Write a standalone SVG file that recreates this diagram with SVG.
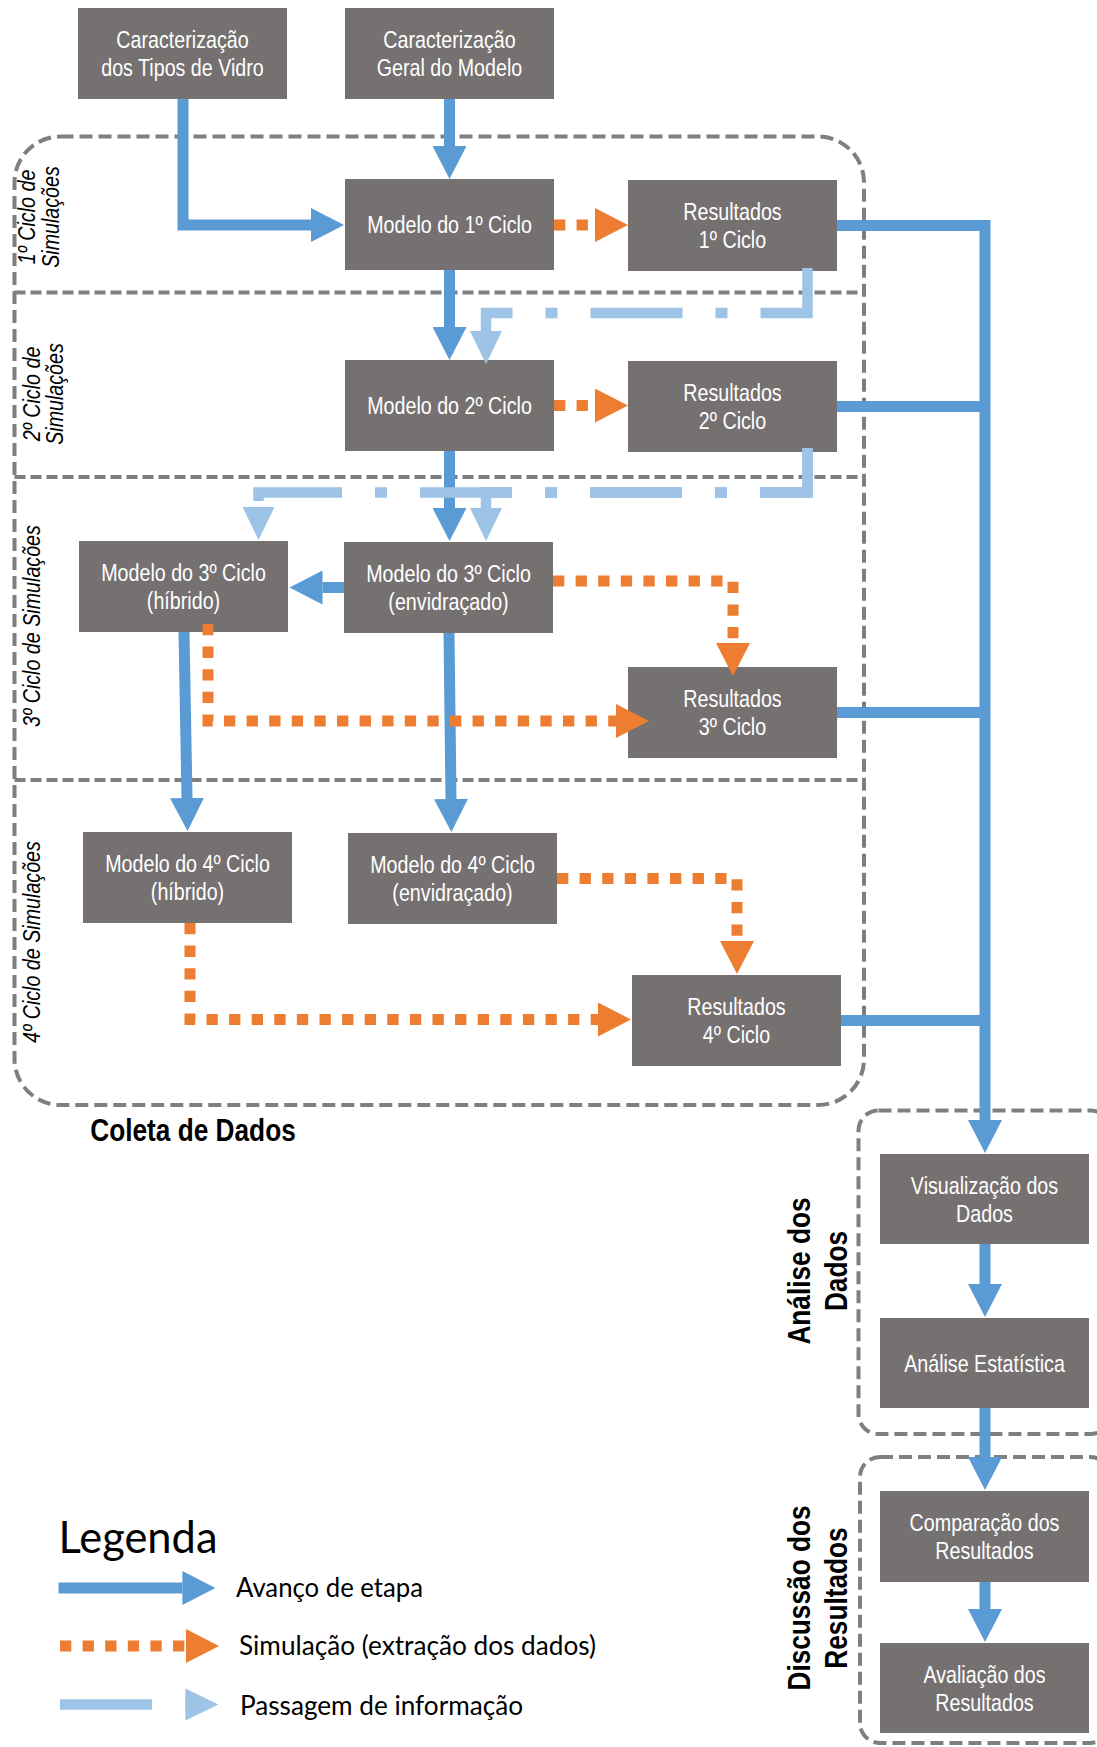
<svg xmlns="http://www.w3.org/2000/svg" width="1097" height="1747" viewBox="0 0 1097 1747">
<defs>
<style>
.box{fill:#767171}
.bt{font-family:"Liberation Sans",Arial,sans-serif;font-size:24px;fill:#ffffff;text-anchor:middle}
.cyc{font-family:"Liberation Sans",Arial,sans-serif;font-size:24px;font-style:italic;fill:#000;text-anchor:middle}
.hd{font-family:"Liberation Sans",Arial,sans-serif;font-size:32px;font-weight:bold;fill:#000;text-anchor:middle}
.lg{font-family:Lato,"Liberation Sans",sans-serif;fill:#000}
.cont{fill:none;stroke:#7f7f7f;stroke-width:4;stroke-dasharray:13 6}
.sep{fill:none;stroke:#7f7f7f;stroke-width:3.8;stroke-dasharray:11 5}
.blue{fill:none;stroke:#5b9bd5;stroke-width:11;stroke-linejoin:miter}
.orange{fill:none;stroke:#ed7d31;stroke-width:11;stroke-dasharray:11.3 11.3;stroke-linejoin:miter}
.light{fill:none;stroke:#9dc3e6;stroke-width:10.5;stroke-dasharray:92 33 12 33;stroke-linejoin:miter}
</style>
<marker id="hb" markerUnits="userSpaceOnUse" markerWidth="34" markerHeight="34" refX="0" refY="17" orient="auto"><path d="M0,0 L33,17 L0,34 z" fill="#5b9bd5"/></marker>
<marker id="ho" markerUnits="userSpaceOnUse" markerWidth="34" markerHeight="34" refX="0" refY="17" orient="auto"><path d="M0,0 L33,17 L0,34 z" fill="#ed7d31"/></marker>
<marker id="hl" markerUnits="userSpaceOnUse" markerWidth="34" markerHeight="34" refX="0" refY="17" orient="auto"><path d="M0,1 L33,17 L0,33 z" fill="#9dc3e6"/></marker>
</defs>
<rect width="1097" height="1747" fill="#ffffff"/>

<g id="containers">
<rect class="cont" x="14.5" y="136.5" width="849.5" height="968.5" rx="46" ry="46"/>
<line class="sep" x1="14.5" y1="292.5" x2="864" y2="292.5"/>
<line class="sep" x1="14.5" y1="477" x2="864" y2="477"/>
<line class="sep" x1="14.5" y1="780" x2="864" y2="780"/>
<rect class="cont" x="858.5" y="1110.5" width="252" height="323.5" rx="20" ry="20"/>
<rect class="cont" x="860" y="1457" width="250" height="286" rx="20" ry="20"/>
</g>

<g id="labels">
<text class="cyc" transform="translate(35,217) rotate(-90) scale(0.82,1)">1º Ciclo de</text>
<text class="cyc" transform="translate(59,217) rotate(-90) scale(0.82,1)">Simulações</text>
<text class="cyc" transform="translate(40,394) rotate(-90) scale(0.82,1)">2º Ciclo de</text>
<text class="cyc" transform="translate(63,394) rotate(-90) scale(0.82,1)">Simulações</text>
<text class="cyc" transform="translate(40,626) rotate(-90) scale(0.82,1)">3º Ciclo de Simulações</text>
<text class="cyc" transform="translate(40,942) rotate(-90) scale(0.82,1)">4º Ciclo de Simulações</text>
<text class="hd" transform="translate(193,1141) scale(0.82,1)">Coleta de Dados</text>
<text class="hd" transform="translate(810,1271) rotate(-90) scale(0.82,1)">Análise dos</text>
<text class="hd" transform="translate(847,1271) rotate(-90) scale(0.82,1)">Dados</text>
<text class="hd" transform="translate(810,1598) rotate(-90) scale(0.82,1)">Discussão dos</text>
<text class="hd" transform="translate(847,1598) rotate(-90) scale(0.82,1)">Resultados</text>
</g>

<g id="n-vidro"><rect class="box" x="78" y="8" width="209" height="91"/>
<text class="bt" transform="translate(182.5,48) scale(0.82,1)">Caracterização</text>
<text class="bt" transform="translate(182.5,76) scale(0.82,1)">dos Tipos de Vidro</text></g>
<g id="n-geral"><rect class="box" x="345" y="8" width="209" height="91"/>
<text class="bt" transform="translate(449.5,48) scale(0.82,1)">Caracterização</text>
<text class="bt" transform="translate(449.5,76) scale(0.82,1)">Geral do Modelo</text></g>
<g id="n-mod1"><rect class="box" x="345" y="179" width="209" height="91"/>
<text class="bt" transform="translate(449.5,233) scale(0.82,1)">Modelo do 1º Ciclo</text></g>
<g id="n-res1"><rect class="box" x="628" y="180" width="209" height="91"/>
<text class="bt" transform="translate(732.5,220) scale(0.82,1)">Resultados</text>
<text class="bt" transform="translate(732.5,248) scale(0.82,1)">1º Ciclo</text></g>
<g id="n-mod2"><rect class="box" x="345" y="360" width="209" height="91"/>
<text class="bt" transform="translate(449.5,414) scale(0.82,1)">Modelo do 2º Ciclo</text></g>
<g id="n-res2"><rect class="box" x="628" y="361" width="209" height="91"/>
<text class="bt" transform="translate(732.5,401) scale(0.82,1)">Resultados</text>
<text class="bt" transform="translate(732.5,429) scale(0.82,1)">2º Ciclo</text></g>
<g id="n-mod3h"><rect class="box" x="79" y="541" width="209" height="91"/>
<text class="bt" transform="translate(183.5,581) scale(0.82,1)">Modelo do 3º Ciclo</text>
<text class="bt" transform="translate(183.5,609) scale(0.82,1)">(híbrido)</text></g>
<g id="n-mod3e"><rect class="box" x="344" y="542" width="209" height="91"/>
<text class="bt" transform="translate(448.5,582) scale(0.82,1)">Modelo do 3º Ciclo</text>
<text class="bt" transform="translate(448.5,610) scale(0.82,1)">(envidraçado)</text></g>
<g id="n-res3"><rect class="box" x="628" y="667" width="209" height="91"/>
<text class="bt" transform="translate(732.5,707) scale(0.82,1)">Resultados</text>
<text class="bt" transform="translate(732.5,735) scale(0.82,1)">3º Ciclo</text></g>
<g id="n-mod4h"><rect class="box" x="83" y="832" width="209" height="91"/>
<text class="bt" transform="translate(187.5,872) scale(0.82,1)">Modelo do 4º Ciclo</text>
<text class="bt" transform="translate(187.5,900) scale(0.82,1)">(híbrido)</text></g>
<g id="n-mod4e"><rect class="box" x="348" y="833" width="209" height="91"/>
<text class="bt" transform="translate(452.5,873) scale(0.82,1)">Modelo do 4º Ciclo</text>
<text class="bt" transform="translate(452.5,901) scale(0.82,1)">(envidraçado)</text></g>
<g id="n-res4"><rect class="box" x="632" y="975" width="209" height="91"/>
<text class="bt" transform="translate(736.5,1015) scale(0.82,1)">Resultados</text>
<text class="bt" transform="translate(736.5,1043) scale(0.82,1)">4º Ciclo</text></g>
<g id="n-visual"><rect class="box" x="880" y="1154" width="209" height="90"/>
<text class="bt" transform="translate(984.5,1193.5) scale(0.82,1)">Visualização dos</text>
<text class="bt" transform="translate(984.5,1221.5) scale(0.82,1)">Dados</text></g>
<g id="n-estat"><rect class="box" x="880" y="1318" width="209" height="90"/>
<text class="bt" transform="translate(984.5,1371.5) scale(0.82,1)">Análise Estatística</text></g>
<g id="n-compar"><rect class="box" x="880" y="1491" width="209" height="91"/>
<text class="bt" transform="translate(984.5,1531) scale(0.82,1)">Comparação dos</text>
<text class="bt" transform="translate(984.5,1559) scale(0.82,1)">Resultados</text></g>
<g id="n-aval"><rect class="box" x="880" y="1643" width="209" height="90"/>
<text class="bt" transform="translate(984.5,1682.5) scale(0.82,1)">Avaliação dos</text>
<text class="bt" transform="translate(984.5,1710.5) scale(0.82,1)">Resultados</text></g>

<g id="connectors">
<path class="blue" d="M183,99 V225 H311" marker-end="url(#hb)"/>
<path class="blue" d="M449.5,99 V146" marker-end="url(#hb)"/>
<path class="blue" d="M449.5,270 V327" marker-end="url(#hb)"/>
<path class="blue" d="M449.5,451 V508" marker-end="url(#hb)"/>
<path class="blue" d="M344,587.5 H322.5" marker-end="url(#hb)"/>
<path class="blue" d="M184,632 L187,798" marker-end="url(#hb)"/>
<path class="blue" d="M449,633 L451,799" marker-end="url(#hb)"/>
<path class="blue" d="M837,225.5 H985 V1120" marker-end="url(#hb)"/>
<path class="blue" d="M837,406.5 H985"/>
<path class="blue" d="M837,712.5 H985"/>
<path class="blue" d="M841,1020.5 H985"/>
<path class="blue" d="M985,1244 V1284" marker-end="url(#hb)"/>
<path class="blue" d="M985,1408 V1457" marker-end="url(#hb)"/>
<path class="blue" d="M985,1582 V1609" marker-end="url(#hb)"/>
<path class="orange" d="M554,225 H595" marker-end="url(#ho)"/>
<path class="orange" d="M554,405.5 H595" marker-end="url(#ho)"/>
<path class="orange" d="M553,581 H733 V643" marker-end="url(#ho)"/>
<path class="orange" d="M208,624 V721 H616" marker-end="url(#ho)"/>
<path class="orange" d="M557,878.5 H737 V941" marker-end="url(#ho)"/>
<path class="orange" d="M190,923 V1019.5 H598" marker-end="url(#ho)"/>
<path class="light" d="M807.5,268 V313 H486 V331" marker-end="url(#hl)"/>
<path class="light" d="M807.5,448 V492.5 H258.5 V507" marker-end="url(#hl)"/>
<path class="light" d="M807.5,448 V492.5 H486 V508" marker-end="url(#hl)"/>
</g>

<g id="legend">
<text class="lg" x="58.5" y="1553" font-size="44" textLength="159" lengthAdjust="spacingAndGlyphs">Legenda</text>
<path class="blue" d="M58.5,1588 H182.4" marker-end="url(#hb)"/>
<text class="lg" x="236" y="1597" font-size="27" textLength="187" lengthAdjust="spacingAndGlyphs">Avanço de etapa</text>
<path class="orange" d="M60,1646 H186" marker-end="url(#ho)"/>
<text class="lg" x="239" y="1655" font-size="27" textLength="357" lengthAdjust="spacingAndGlyphs">Simulação (extração dos dados)</text>
<path class="light" d="M60,1704.5 H185.4" marker-end="url(#hl)"/>
<text class="lg" x="240" y="1715" font-size="27" textLength="283" lengthAdjust="spacingAndGlyphs">Passagem de informação</text>
</g>
</svg>
